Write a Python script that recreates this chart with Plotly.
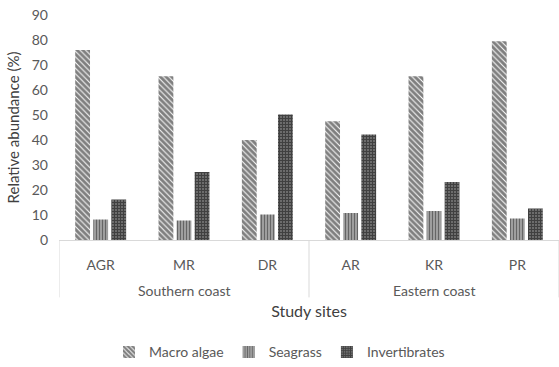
import plotly.graph_objects as go

coasts = ["Southern coast", "Eastern coast"]
coast_sites = [["AGR", "MR", "DR"], ["AR", "KR", "PR"]]
sites = [s for group in coast_sites for s in group]

macro_algae = [76, 65.5, 40, 47.5, 65.5, 79.5]
seagrass = [8.2, 7.8, 10.2, 10.8, 11.6, 8.6]
invertibrates = [16.2, 27.2, 50.2, 42.2, 23.2, 12.6]

y_ticks = [0, 10, 20, 30, 40, 50, 60, 70, 80, 90]

FONT = "Lato"
GREY = "#595959"
LINE = "#d9d9d9"

series = [
    ("Macro algae", macro_algae, dict(shape="\\", fgcolor="#000000", bgcolor="#ffffff", size=4, solidity=0.75)),
    ("Seagrass", seagrass, dict(shape="|", fgcolor="#1a1a1a", bgcolor="#b0b0b0", size=3, solidity=0.5)),
    ("Invertibrates", invertibrates, dict(shape="+", fgcolor="#111111", bgcolor="#6e6e6e", size=3, solidity=0.6)),
]

fig = go.Figure()
for name, vals, pat in series:
    fig.add_trace(go.Bar(
        name=name,
        x=sites,
        y=vals,
        marker=dict(color="#ffffff", pattern=pat, line=dict(width=0)),
    ))

# group labels and the divider ticks under the category axis
divider_depth = -0.255
start = 0
edges = [-0.5]
for coast, group in zip(coasts, coast_sites):
    centre = start + (len(group) - 1) / 2
    fig.add_annotation(
        x=centre, xref="x", y=-0.225, yref="paper",
        text=coast, showarrow=False, yanchor="middle",
        font=dict(family=FONT, size=14, color=GREY),
    )
    start += len(group)
    edges.append(start - 0.5)
for e in edges:
    fig.add_shape(
        type="line", xref="x", yref="paper",
        x0=e, x1=e, y0=0, y1=divider_depth,
        line=dict(color=LINE, width=1),
    )

fig.update_layout(
    width=559,
    height=367,
    margin=dict(l=59, r=0, t=15, b=127),
    paper_bgcolor="white",
    plot_bgcolor="white",
    barmode="group",
    bargap=0.35,
    bargroupgap=0.18,
    font=dict(family=FONT, size=14, color=GREY),
    showlegend=True,
    legend=dict(
        orientation="h",
        xref="container", yref="container",
        x=0.5, xanchor="center",
        y=0.04, yanchor="middle",
        font=dict(size=14, color=GREY),
        itemwidth=30,
        tracegroupgap=0,
    ),
    xaxis=dict(
        type="category",
        range=[-0.5, len(sites) - 0.5],
        showline=True,
        linecolor=LINE,
        linewidth=1,
        ticks="",
        ticklabelstandoff=12,
        tickfont=dict(family=FONT, size=14, color=GREY),
        title=dict(text="Study sites", font=dict(family=FONT, size=16, color="#404040"), standoff=34),
    ),
    yaxis=dict(
        range=[0, 90],
        tickvals=y_ticks,
        showgrid=False,
        zeroline=False,
        showline=False,
        ticks="",
        ticklabelstandoff=10,
        tickfont=dict(family=FONT, size=14, color=GREY),
        title=dict(text="Relative abundance (%)", font=dict(family=FONT, size=15, color="#404040"), standoff=8),
    ),
)

fig.write_html("out.html")
